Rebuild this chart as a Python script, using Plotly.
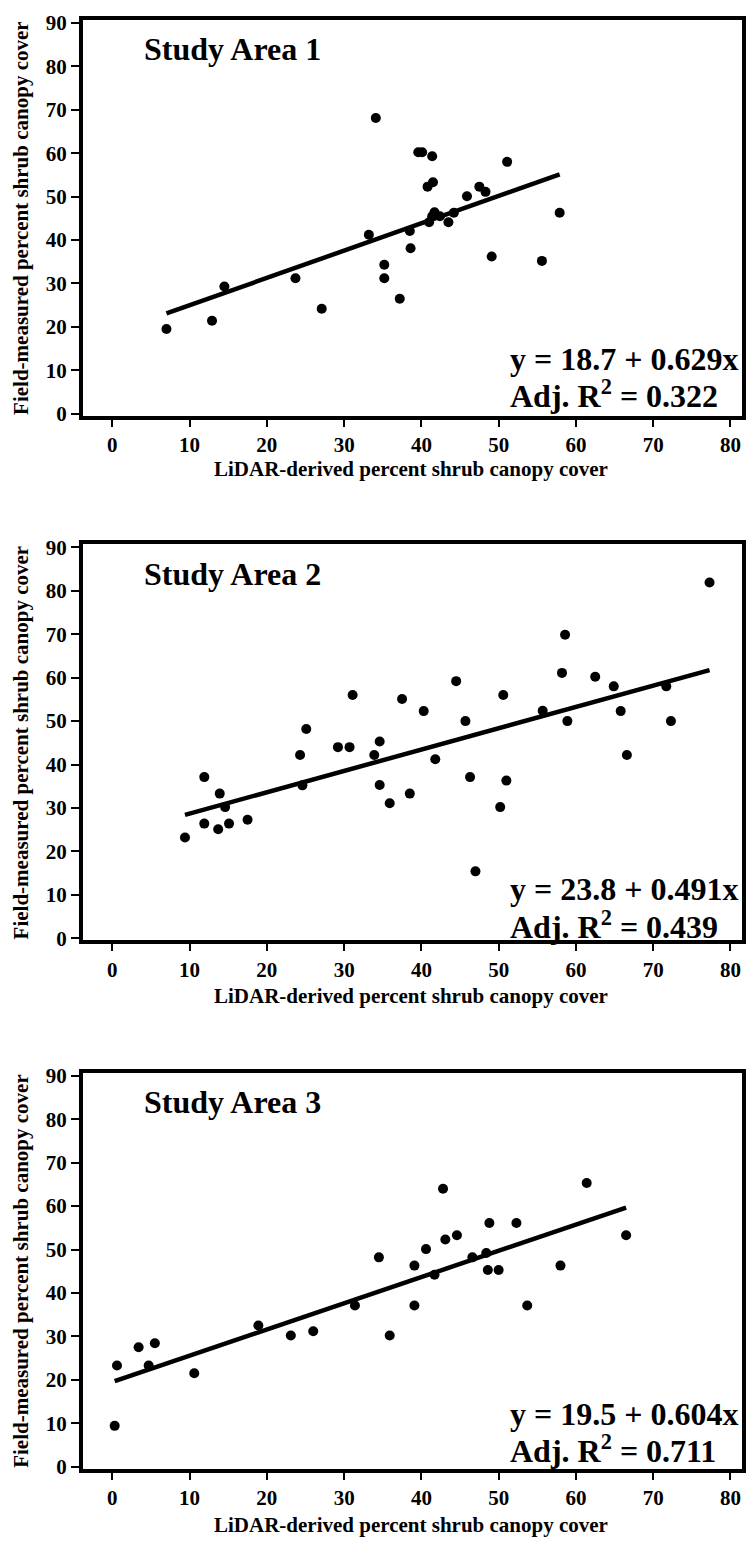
import plotly.graph_objects as go

# ---------------- data ----------------
area_names = ["Study Area 1", "Study Area 2", "Study Area 3"]

sa1_lidar = [7.0, 12.9, 14.5, 23.7, 27.1, 33.2, 34.1, 35.2, 35.2, 37.2, 38.5, 38.6,
             39.6, 40.1, 41.4, 40.8, 41.5, 41.0, 41.4, 41.7, 42.4, 43.5, 44.2, 45.9,
             47.5, 48.3, 49.1, 51.1, 55.6, 57.9]
sa1_field = [19.5, 21.4, 29.3, 31.2, 24.2, 41.2, 68.1, 34.3, 31.2, 26.5, 42.1, 38.1,
             60.2, 60.2, 59.3, 52.3, 53.3, 44.1, 45.5, 46.4, 45.5, 44.1, 46.3, 50.1,
             52.3, 51.1, 36.2, 58.0, 35.2, 46.3]

sa2_lidar = [9.4, 11.9, 11.9, 13.9, 13.7, 14.6, 15.1, 17.5, 24.3, 24.6, 25.1, 29.2,
             30.7, 31.1, 33.9, 34.6, 34.6, 35.9, 37.5, 38.5, 40.3, 41.8, 44.5, 45.7,
             46.3, 47.0, 50.2, 50.6, 51.0, 55.7, 58.2, 58.6, 58.9, 62.5, 64.9, 65.8,
             66.6, 71.7, 72.3, 77.3]
sa2_field = [23.2, 37.1, 26.4, 33.3, 25.1, 30.2, 26.4, 27.3, 42.2, 35.2, 48.2, 44.0,
             44.0, 56.0, 42.2, 45.3, 35.3, 31.1, 55.1, 33.3, 52.3, 41.2, 59.2, 50.0,
             37.1, 15.4, 30.2, 56.0, 36.3, 52.4, 61.1, 69.9, 50.0, 60.2, 58.0, 52.3,
             42.2, 58.0, 50.0, 81.9]

sa3_lidar = [0.3, 0.6, 3.4, 4.7, 5.5, 10.6, 18.9, 23.1, 26.0, 31.4, 34.5, 35.9,
             39.1, 39.1, 40.6, 41.7, 42.8, 43.1, 44.6, 46.6, 48.4, 48.6, 48.8, 50.0,
             52.3, 53.7, 58.0, 61.4, 66.5]
sa3_field = [9.4, 23.3, 27.5, 23.3, 28.4, 21.5, 32.5, 30.2, 31.2, 37.1, 48.2, 30.2,
             46.3, 37.1, 50.1, 44.2, 64.0, 52.3, 53.3, 48.2, 49.2, 45.3, 56.1, 45.3,
             56.1, 37.1, 46.3, 65.3, 53.3]

intercepts = [18.7, 23.8, 19.5]
slopes = [0.629, 0.491, 0.604]
adj_r2 = ["0.322", "0.439", "0.711"]

x_ticks = [0, 10, 20, 30, 40, 50, 60, 70, 80]
y_ticks = [0, 10, 20, 30, 40, 50, 60, 70, 80, 90]

x_title = "LiDAR-derived percent shrub canopy cover"
y_title = "Field-measured percent shrub canopy cover"

# ---------------- layout helpers ----------------
W, H = 748, 1547
FONT = "Liberation Serif"


def py(px):
    return 1 - px / H


def pxx(px):
    return px / W


panel_px = [(11, 412), (542, 943), (1077, 1478)]  # top, bottom of plot areas
xtitle_px = [466, 999, 1535]
eq_pos = [(0.145, 0.055), (0.130, 0.040), (0.139, 0.049)]

datasets = [(sa1_lidar, sa1_field), (sa2_lidar, sa2_field), (sa3_lidar, sa3_field)]

fig = go.Figure()
annotations = []

for i, (xs, ys) in enumerate(datasets):
    n = "" if i == 0 else str(i + 1)
    xa, ya = "x" + n, "y" + n
    fig.add_trace(go.Scatter(x=xs, y=ys, mode="markers", xaxis=xa, yaxis=ya,
                             marker=dict(color="black", size=10),
                             showlegend=False))
    x0, x1 = min(xs), max(xs)
    fig.add_trace(go.Scatter(x=[x0, x1],
                             y=[intercepts[i] + slopes[i] * x0, intercepts[i] + slopes[i] * x1],
                             mode="lines", xaxis=xa, yaxis=ya,
                             line=dict(color="black", width=4.5), showlegend=False))

    top, bot = panel_px[i]
    axis_common = dict(showgrid=False, zeroline=False, showline=True, linecolor="black",
                       linewidth=4, mirror=True, ticks="outside", tickcolor="black",
                       tickwidth=2,
                       tickfont=dict(family=FONT, size=21, color="black"))
    fig.update_layout(**{
        "xaxis" + n: dict(domain=[83 / W, 742 / W], range=[-3.8, 81.5], anchor=ya,
                          tickvals=x_ticks, ticktext=[f"<b>{v}</b>" for v in x_ticks],
                          ticklen=7, **axis_common),
        "yaxis" + n: dict(domain=[py(bot), py(top)], range=[-0.5, 90.7], anchor=xa,
                          tickvals=y_ticks, ticktext=[f"<b>{v}</b>" for v in y_ticks],
                          ticklen=8, **axis_common),
    })

    # panel label
    annotations.append(dict(text=f"<b>{area_names[i]}</b>", xref=xa + " domain",
                            yref=ya + " domain",
                            x=0.0895, y=0.926, xanchor="left", yanchor="middle",
                            showarrow=False,
                            font=dict(family=FONT, size=32, color="black")))
    # equation
    annotations.append(dict(text=f"<b>y = {intercepts[i]} + {slopes[i]}x</b>",
                            xref=xa + " domain", yref=ya + " domain",
                            x=0.645, y=eq_pos[i][0], xanchor="left", yanchor="middle",
                            showarrow=False,
                            font=dict(family=FONT, size=32, color="black")))
    annotations.append(dict(text=f"<b>Adj. R<sup>2</sup> = {adj_r2[i]}</b>",
                            xref=xa + " domain", yref=ya + " domain",
                            x=0.645, y=eq_pos[i][1], xanchor="left", yanchor="middle",
                            showarrow=False,
                            font=dict(family=FONT, size=32, color="black")))
    # axis titles
    annotations.append(dict(text=f"<b>{x_title}</b>", xref="paper", yref="paper",
                            x=pxx(411), y=py(xtitle_px[i]), xanchor="center",
                            yanchor="middle", showarrow=False,
                            font=dict(family=FONT, size=21, color="black")))
    annotations.append(dict(text=f"<b>{y_title}</b>", xref="paper", yref="paper",
                            x=pxx(21), y=py((top + bot) / 2), xanchor="center",
                            yanchor="middle", textangle=-90, showarrow=False,
                            font=dict(family=FONT, size=21, color="black")))

fig.update_layout(width=W, height=H, margin=dict(l=0, r=0, t=0, b=0),
                  plot_bgcolor="white", paper_bgcolor="white",
                  annotations=annotations, showlegend=False)

fig.write_html("out.html")
